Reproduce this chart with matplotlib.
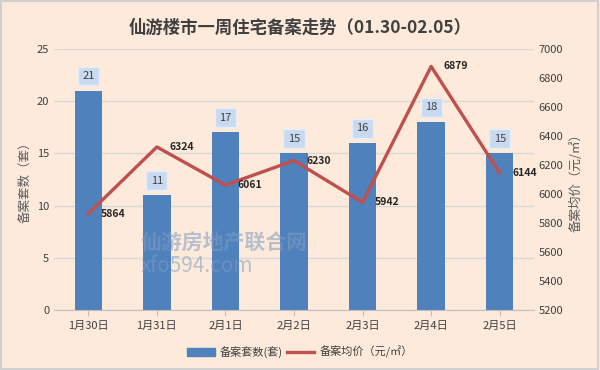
import matplotlib
matplotlib.use("Agg")
import matplotlib.pyplot as plt
from matplotlib.patches import Rectangle

plt.rcParams['font.family'] = ['Noto Sans CJK SC', 'DejaVu Sans']

# data
dates = ["1月30日", "1月31日", "2月1日", "2月2日", "2月3日", "2月4日", "2月5日"]
units = [21, 11, 17, 15, 16, 18, 15]
prices = [5864, 6324, 6061, 6230, 5942, 6879, 6144]

bg = "#fdeadb"
fig = plt.figure(figsize=(6, 3.7), dpi=100, facecolor=bg)
fig.patches.append(Rectangle((0.002, 0.003), 0.995, 0.993, transform=fig.transFigure,
                             fill=False, ec="#d0d0d0", lw=1.5))
ax = fig.add_axes([0.09, 0.162, 0.80, 0.706])
ax.set_facecolor(bg)
x = range(len(dates))
ax.bar(x, units, width=0.4, color="#4f81bd", zorder=2)
ax.set_ylim(0, 25)
ax.set_yticks(range(0, 26, 5))
ax.set_xlim(-0.5, len(dates) - 0.5)
ax.set_xticks(list(x))
ax.set_xticklabels(dates)
ax.grid(axis="y", color="#d9d9d9", lw=1, zorder=0)
for s in ["top", "right", "left"]:
    ax.spines[s].set_visible(False)
ax.spines["bottom"].set_color("#bfbfbf")
ax.tick_params(axis="y", length=0, labelsize=8, colors="#404040")
ax.tick_params(axis="x", length=4, color="#bfbfbf", labelsize=8, colors="#404040")
ax.set_ylabel("备案套数（套）", fontsize=9, color="#595959")

for i, v in enumerate(units):
    ax.annotate(str(v), (i, v), xytext=(0, 10.5), textcoords="offset points",
                ha="center", va="center", fontsize=8, color="#404040",
                bbox=dict(boxstyle="square,pad=0.4", fc="#c9daf0", ec="#e6eef8", lw=1))

# watermark
fig.text(0.235, 0.342, "仙游房地产联合网", fontsize=15, fontweight="bold",
         color="#7f9cc0", alpha=0.55, va="center")
fig.text(0.235, 0.282, "xfo594.com", fontsize=15, color="#7f9cc0", alpha=0.55,
         va="center")

ax2 = ax.twinx()
ax2.plot(list(x), prices, color="#c0504d", lw=2.4, zorder=3)
ax2.set_ylim(5200, 7000)
ax2.set_yticks(range(5200, 7001, 200))
for s in ["top", "right", "left", "bottom"]:
    ax2.spines[s].set_visible(False)
ax2.tick_params(axis="y", length=0, labelsize=8, colors="#404040")
ax2.set_ylabel("备案均价（元/㎡）", fontsize=9, color="#595959")
for i, p in enumerate(prices):
    ax2.annotate(str(p), (i, p), xytext=(9, 0), textcoords="offset points",
                 ha="left", va="center", fontsize=7.5, fontweight="bold", color="#262626")

fig.suptitle("仙游楼市一周住宅备案走势（01.30-02.05）", y=0.95, fontsize=12.5,
             fontweight="bold", color="#404040")

h1 = Rectangle((0, 0), 1, 1, color="#4f81bd")
h2 = ax2.get_lines()[0]
fig.legend([h1, h2], ["备案套数(套)", "备案均价（元/㎡）"], loc="center",
           bbox_to_anchor=(0.5, 0.048), ncol=2, frameon=False, fontsize=8,
           handlelength=2.5, columnspacing=0.3, handletextpad=0.5,
           labelcolor="#404040")

fig.savefig("out.png", dpi=100, facecolor=bg)
